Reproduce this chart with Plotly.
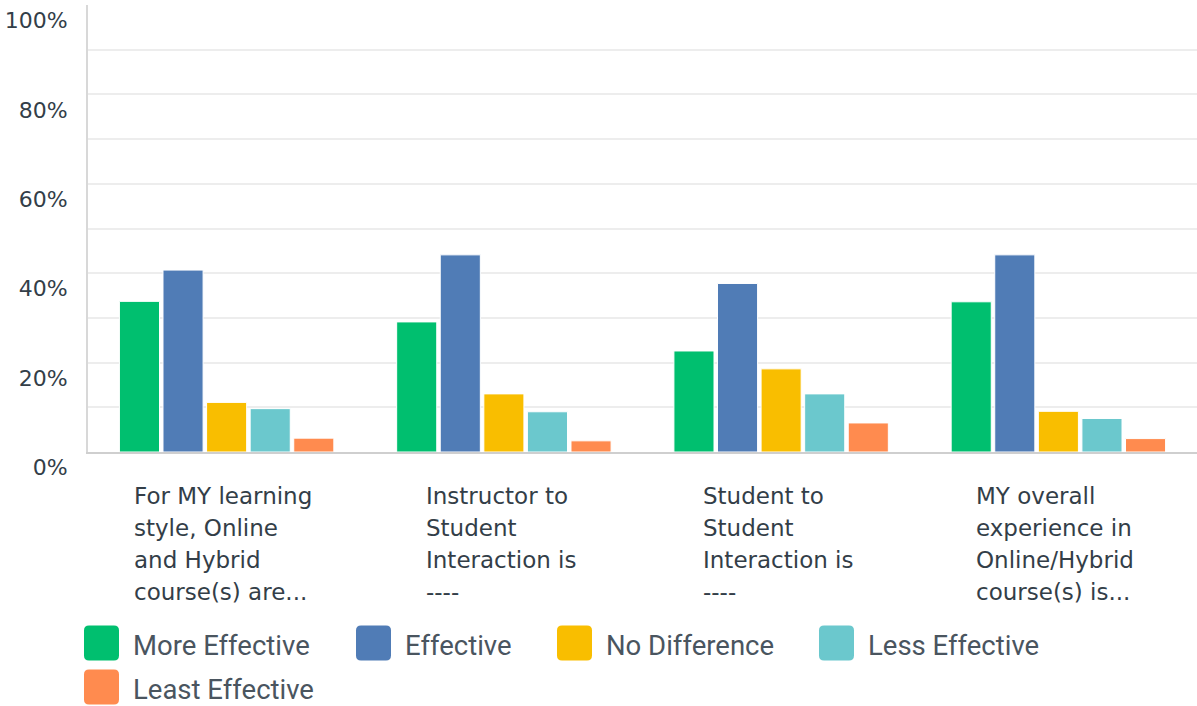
import plotly.graph_objects as go

# ---------------- data ----------------
categories = [
    "For MY learning<br>style, Online<br>and Hybrid<br>course(s) are...",
    "Instructor to<br>Student<br>Interaction is<br>----",
    "Student to<br>Student<br>Interaction is<br>----",
    "MY overall<br>experience in<br>Online/Hybrid<br>course(s) is...",
]
series_names = ["More Effective", "Effective", "No Difference", "Less Effective", "Least Effective"]
more_effective = [33.7, 29.1, 22.6, 33.6]
effective = [40.7, 44.1, 37.7, 44.1]
no_difference = [11.1, 13.0, 18.6, 9.1]
less_effective = [9.7, 9.0, 13.0, 7.5]
least_effective = [3.1, 2.5, 6.5, 3.0]
series_values = [more_effective, effective, no_difference, less_effective, least_effective]
colors = ["#00BF6F", "#507CB6", "#F9BE00", "#6BC8CD", "#FF8B4F"]
y_tick_values = [0, 20, 40, 60, 80, 100]
y_tick_labels = ["0%", "20%", "40%", "60%", "80%", "100%"]

# ---------------- layout constants (pixels) ----------------
W, H = 1197, 706
PL, PR, PT, PB = 88, 1197, 5, 452  # plot area
TEXT = "#333e48"


def px_x(px):
    return (px - PL) / (PR - PL)


def px_y(py):
    return (PB - py) / (PB - PT)


fig = go.Figure()
for name, vals, col in zip(series_names, series_values, colors):
    fig.add_trace(go.Bar(
        x=categories, y=vals, name=name,
        marker=dict(color=col, line=dict(color="white", width=1)),
        showlegend=False,
    ))

# category labels: one annotation per line, left-aligned blocks
label_left_shift = [-95, -80, -80, -84]
line_first_y = 496
line_step = 32
annotations = []
for cat, shift in zip(categories, label_left_shift):
    for i, line in enumerate(cat.split("<br>")):
        annotations.append(dict(
            x=cat, xref="x", xanchor="left", xshift=shift,
            y=px_y(line_first_y + i * line_step), yref="paper", yanchor="middle",
            text=line, showarrow=False, align="left",
            font=dict(family="DejaVu Sans", size=23, color=TEXT),
        ))

# custom legend with large rounded swatches
legend_x = [84, 356, 557, 819, 84]
legend_y = [643, 643, 643, 643, 687]
SW = 35
R = 5
shapes = []


def rounded_rect(x0, y0, x1, y1, r):
    pts = [
        ("M", (x0 + r, y0)), ("L", (x1 - r, y0)), ("Q", (x1, y0), (x1, y0 + r)),
        ("L", (x1, y1 - r)), ("Q", (x1, y1), (x1 - r, y1)),
        ("L", (x0 + r, y1)), ("Q", (x0, y1), (x0, y1 - r)),
        ("L", (x0, y0 + r)), ("Q", (x0, y0), (x0 + r, y0)),
    ]
    out = []
    for p in pts:
        cmd = p[0]
        coords = " ".join(f"{px_x(a):.5f},{px_y(b):.5f}" for a, b in p[1:])
        out.append(f"{cmd} {coords}")
    return " ".join(out) + " Z"


for name, col, lx, ly in zip(series_names, colors, legend_x, legend_y):
    shapes.append(dict(
        type="path", xref="paper", yref="paper",
        path=rounded_rect(lx, ly - SW / 2, lx + SW, ly + SW / 2, R),
        fillcolor=col, line=dict(width=0), layer="above",
    ))
    annotations.append(dict(
        x=px_x(lx + SW + 12), xref="paper", xanchor="left",
        y=px_y(ly + 2), yref="paper", yanchor="middle",
        text=name, showarrow=False,
        font=dict(family="Roboto", size=27.5, color="#4a555f"),
    ))

fig.update_layout(
    width=W, height=H, autosize=False,
    margin=dict(l=PL, r=W - PR, t=PT, b=H - PB, pad=0),
    paper_bgcolor="white", plot_bgcolor="white",
    barmode="group", bargap=0.214, bargroupgap=0.08,
    annotations=annotations, shapes=shapes,
    showlegend=False,
    xaxis=dict(
        showticklabels=False, ticks="", showgrid=False,
        showline=True, linecolor="#cfcfcf", linewidth=2, fixedrange=True,
    ),
    yaxis=dict(
        range=[0, 100], tickvals=y_tick_values, ticktext=y_tick_labels,
        ticks="", showgrid=True, gridcolor="#ededed", gridwidth=2,
        minor=dict(dtick=10, tick0=0, showgrid=True, gridcolor="#ededed", gridwidth=2),
        zeroline=False, showline=True, linecolor="#d8d8d8", linewidth=2,
        tickfont=dict(family="DejaVu Sans", size=22, color=TEXT),
        ticklabelposition="outside bottom", ticklabelstandoff=14,
    ),
)

fig.write_html(
    "out.html",
    config={"displayModeBar": False},
    post_script="document.body.style.margin='0';document.body.style.overflow='hidden';",
)
